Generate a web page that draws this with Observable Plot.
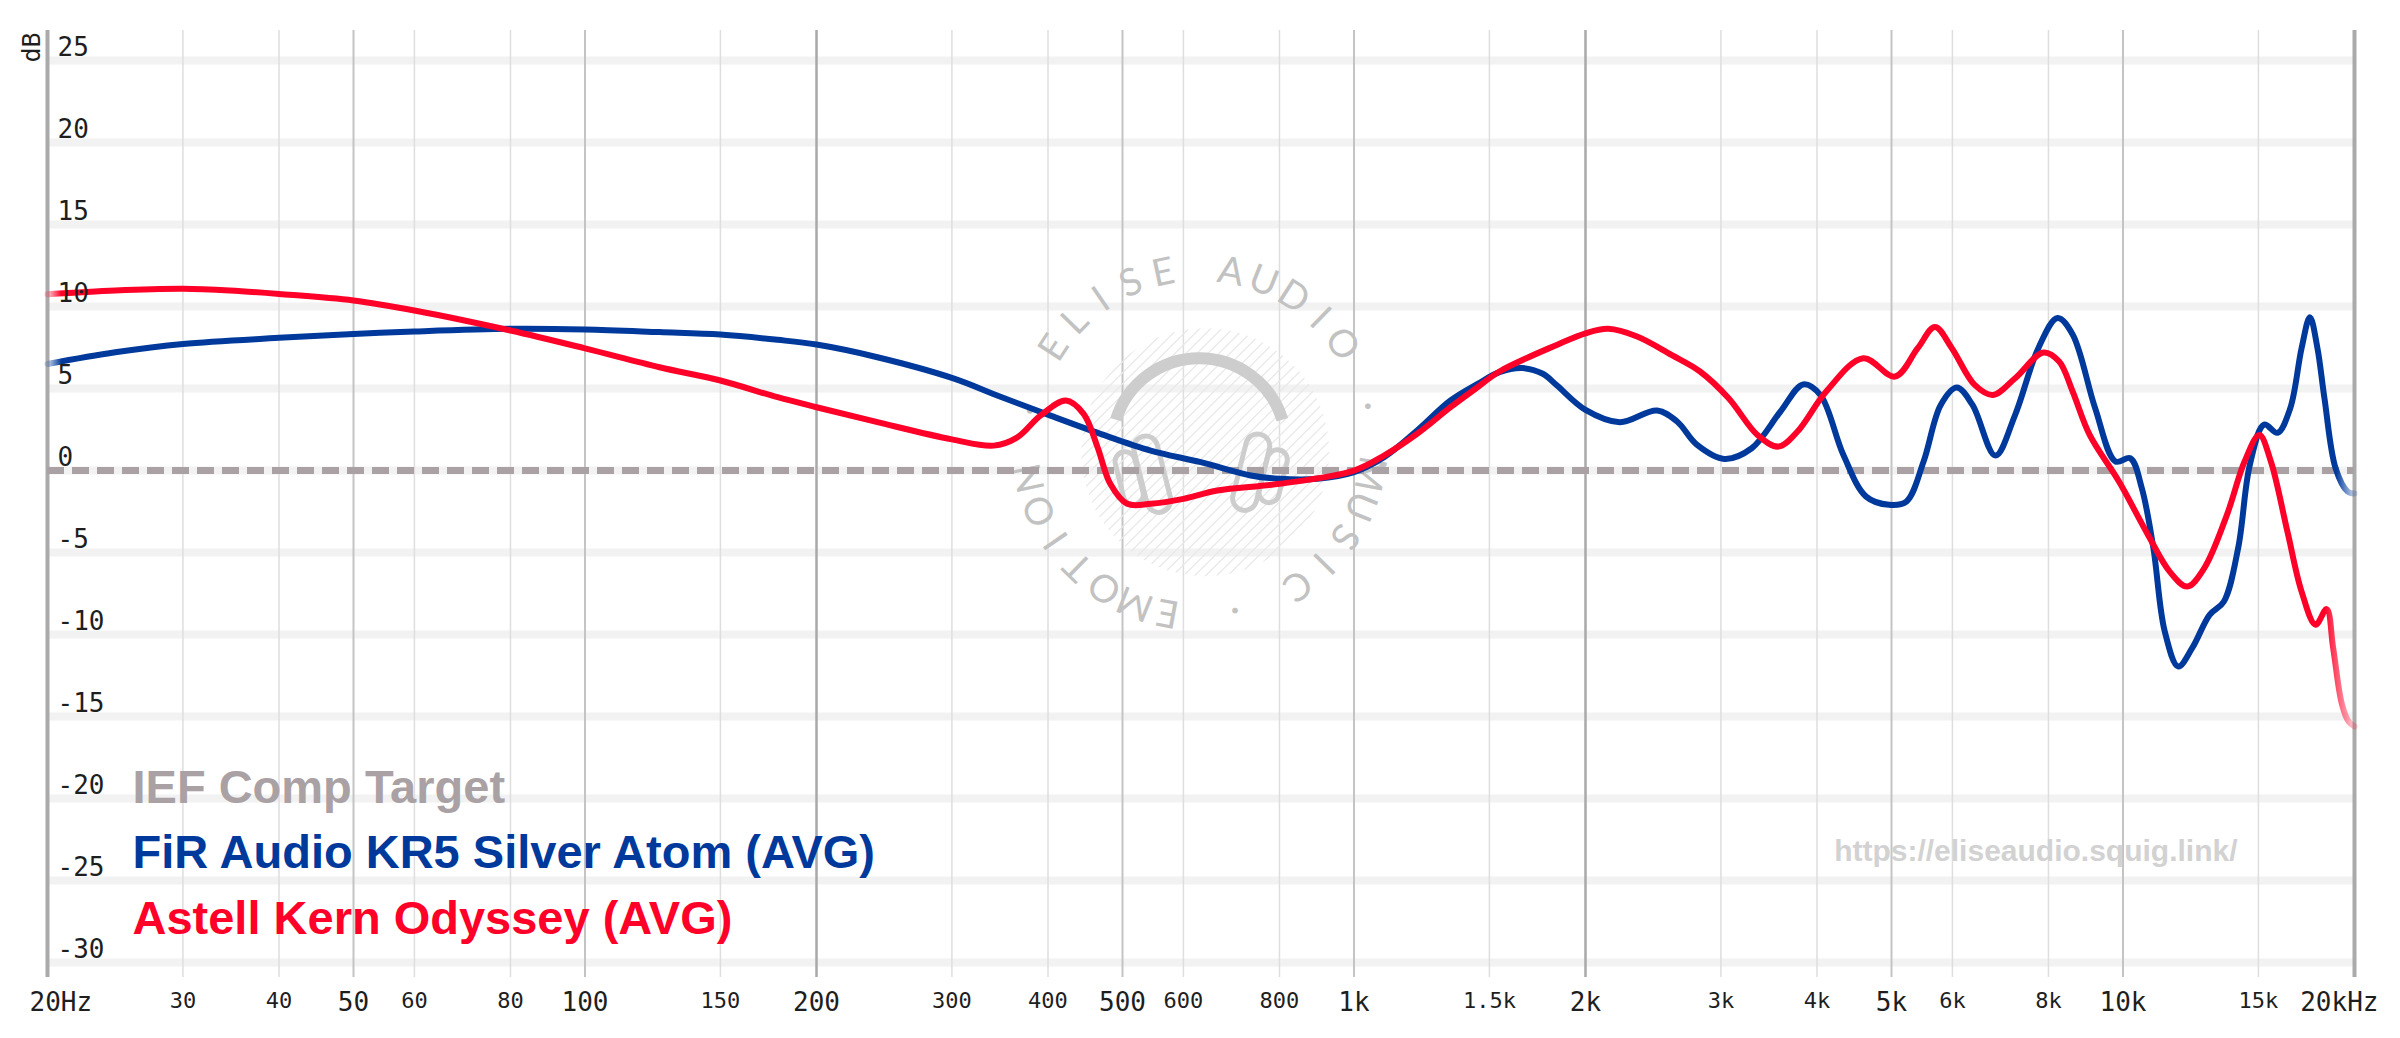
<!DOCTYPE html>
<html><head><meta charset="utf-8">
<script src="https://cdn.jsdelivr.net/npm/d3@7"></script>
<script src="https://cdn.jsdelivr.net/npm/@observablehq/plot@0.6"></script>
<style>
html,body{margin:0;padding:0;background:#fff;}
#chart svg{display:block;}
</style></head>
<body><div id="chart"></div>
<script>
// ---- data ----
const blueFreq = [20,24.5,30,40,50,60,80,100,125,150,178,200,240,300,347,403,468,544,632,734,800,896,1000,1094,1208,1335,1450,1546,1656,1760,1835,2000,2216,2478,2631,2794,3030,3290,3586,3838,4040,4328,4634,4964,5228,5504,5794,6080,6372,6824,7240,7760,8220,8600,9200,9780,10220,10580,10950,11330,11800,12310,12960,13520,14120,14620,15260,15880,16500,17070,17500,17900,18280,18900,19590,20000];
const blueDb   = [6.5,7.21,7.72,8.09,8.33,8.48,8.64,8.6,8.44,8.29,7.97,7.68,6.91,5.65,4.5,3.35,2.24,1.22,0.51,-0.3,-0.5,-0.5,-0.1,0.81,2.44,4.27,5.3,6.0,6.25,5.9,5.2,3.7,2.95,3.66,2.99,1.56,0.71,1.36,3.6,5.25,4.61,0.96,-1.59,-2.09,-1.89,0.55,4.0,5.06,4.0,0.91,3.4,7.46,9.3,8.3,3.8,0.55,0.75,-1.08,-4.7,-9.8,-11.95,-10.8,-8.8,-8.0,-4.7,0.35,2.8,2.3,3.8,7.46,9.35,7.46,4.4,0.14,-1.28,-1.4];
const redFreq  = [20,24.5,30,34.5,40,50,60,80,100,125,150,178,200,240,300,340,365,391,422,445,464,482,507,544,600,664,800,1000,1094,1208,1335,1440,1546,1835,2000,2141,2334,2587,2818,3070,3347,3564,3773,4112,4594,5052,5408,5694,5990,6414,6776,7240,7880,8260,8600,9050,9880,10770,11500,12120,12750,13650,14390,15040,15570,16360,17070,17800,18400,18760,19250,19650,20000];
const redDb    = [10.75,10.98,11.08,10.98,10.77,10.37,9.76,8.54,7.45,6.3,5.49,4.47,3.86,2.95,1.9,1.52,2.03,3.35,4.27,3.46,1.42,-0.81,-2.03,-2.03,-1.73,-1.22,-0.81,0,0.91,2.24,3.86,5.0,6.04,7.66,8.37,8.64,8.17,7.05,6.04,4.41,2.17,1.46,2.38,4.82,6.85,5.73,7.46,8.75,7.46,5.22,4.61,5.63,7.2,6.65,4.82,2.17,-0.67,-3.9,-6.16,-7.07,-5.96,-2.7,0.55,2.17,0.55,-3.72,-7.38,-9.4,-8.45,-10.8,-14.2,-15.3,-15.6];

const seriesNames  = ["IEF Comp Target", "FiR Audio KR5 Silver Atom (AVG)", "Astell Kern Odyssey (AVG)"];
const seriesColors = ["#aaa1a5", "#00399c", "#ff0028"];
const targetDb = 0;

const xTicks      = [20,30,40,50,60,80,100,150,200,300,400,500,600,800,1000,1500,2000,3000,4000,5000,6000,8000,10000,15000,20000];
const xTickLabels = ["20Hz","30","40","50","60","80","100","150","200","300","400","500","600","800","1k","1.5k","2k","3k","4k","5k","6k","8k","10k","15k","20kHz"];
const xMajor      = [20,50,100,200,500,1000,2000,5000,10000,20000];
const xDark       = [20,200,2000,20000];
const yTicks      = [25,20,15,10,5,0,-5,-10,-15,-20,-25,-30];
const yTickLabels = ["25","20","15","10","5","0","-5","-10","-15","-20","-25","-30"];

const urlText = "https://eliseaudio.squig.link/";
const wmText = "ELISE AUDIO · MUSIC · EMOTION · ";
const wmCenter = {freq: 630, db: 1.7};

// ---- tables ----
const blue = blueFreq.map((f, i) => ({f, db: blueDb[i]}));
const red  = redFreq.map((f, i) => ({f, db: redDb[i]}));
const ticks = xTicks.map((f, i) => ({f, label: xTickLabels[i], major: xMajor.includes(f)}));
const yt = yTicks.map((v, i) => ({v, label: yTickLabels[i]}));
const gridLight  = xTicks.filter(f => !xMajor.includes(f));
const gridMedium = xMajor.filter(f => !xDark.includes(f));
const gridDark   = xDark.filter(f => f !== 20 && f !== 20000);
const edges      = [20, 20000];

const monoFont = "'DejaVu Sans Mono', 'Liberation Mono', monospace";
const sansBold = "'Liberation Sans', Arial, sans-serif";

// defs: fading gradients for curve ends, soft blur for grid bands
const defsMark = () => {
  const defs = d3.create("svg:defs");
  [["fadeBlue", seriesColors[1], 0.006, 0.992], ["fadeRed", seriesColors[2], 0.006, 0.987]].forEach(([id, c, a, b]) => {
    const g = defs.append("linearGradient").attr("id", id).attr("x1", 0).attr("x2", 1).attr("y1", 0).attr("y2", 0);
    g.append("stop").attr("offset", 0).attr("stop-color", c).attr("stop-opacity", 0.2);
    g.append("stop").attr("offset", a).attr("stop-color", c).attr("stop-opacity", 1);
    g.append("stop").attr("offset", b).attr("stop-color", c).attr("stop-opacity", 1);
    g.append("stop").attr("offset", 1).attr("stop-color", c).attr("stop-opacity", 0.2);
  });
  defs.append("filter").attr("id", "soft").attr("x", "-5%").attr("y", "-5%").attr("width", "110%").attr("height", "110%")
    .append("feGaussianBlur").attr("stdDeviation", 1.6);
  return defs.node();
};

// watermark logo (decoration)
const watermarkMark = (index, scales) => {
  const cx = scales.x(wmCenter.freq), cy = scales.y(wmCenter.db);
  const g = d3.create("svg:g").attr("class", "wm");
  const wc = "#cdcdcd";
  g.append("clipPath").attr("id", "wmclip").append("circle").attr("cx", cx + 6).attr("cy", cy + 10).attr("r", 124);
  const hatch = g.append("g").attr("clip-path", "url(#wmclip)").attr("stroke", "#e8e8e8").attr("stroke-width", 1.3);
  for (let k = -300; k <= 300; k += 11) {
    hatch.append("line").attr("x1", cx + k - 200).attr("y1", cy + 200).attr("x2", cx + k + 200).attr("y2", cy - 200);
  }
  const R = 87, a1 = 197 * Math.PI / 180, a2 = 343 * Math.PI / 180, hy = cy + 3;
  g.append("path")
    .attr("d", `M${cx + R * Math.cos(a1)},${hy + R * Math.sin(a1)} A${R},${R} 0 0 1 ${cx + R * Math.cos(a2)},${hy + R * Math.sin(a2)}`)
    .attr("fill", "none").attr("stroke", wc).attr("stroke-width", 12);
  const cup = (x, y, w, h, rot) => g.append("rect")
    .attr("x", -w / 2).attr("y", -h / 2).attr("width", w).attr("height", h).attr("rx", w / 2)
    .attr("transform", `translate(${x},${y}) rotate(${rot})`)
    .attr("fill", "none").attr("stroke", wc).attr("stroke-width", 5);
  cup(cx - 47, cy + 32, 24, 78, -14);
  cup(cx - 70, cy + 36, 20, 54, -14);
  cup(cx + 52, cy + 30, 24, 78, 14);
  cup(cx + 74, cy + 34, 20, 54, 14);
  // circular lettering, one glyph per angular step
  const chars = [...wmText];
  const rb = 161, start = 213, step = 360 / chars.length;
  const tg = g.append("g").attr("fill", "#c2c2c2")
    .attr("font-family", "Lato, 'Open Sans', sans-serif").attr("font-size", 38).attr("text-anchor", "middle");
  chars.forEach((ch, i) => {
    if (ch === " ") return;
    const a = (start + i * step) * Math.PI / 180;
    const x = cx + rb * Math.cos(a), y = cy + rb * Math.sin(a);
    tg.append("text").attr("transform", `translate(${x},${y}) rotate(${start + i * step + 90})`).text(ch);
  });
  return g.node();
};

const chart = Plot.plot({
  width: 2400,
  height: 1038,
  marginLeft: 47,
  marginRight: 46,
  marginTop: 30,
  marginBottom: 61,
  style: {background: "#fff"},
  x: {type: "log", domain: [20, 20000], axis: null},
  y: {domain: [-30.91, 26.83], axis: null},
  marks: [
    defsMark,
    Plot.ruleY(yTicks, {stroke: "#f2f2f2", strokeWidth: 8, ariaLabel: "hgrid"}),
    Plot.ruleX(gridLight, {stroke: "#dedede", strokeWidth: 1.5}),
    Plot.ruleX(gridMedium, {stroke: "#c4c4c4", strokeWidth: 2}),
    Plot.ruleX(gridDark, {stroke: "#a9a9a9", strokeWidth: 2.5}),
    Plot.ruleX(edges, {stroke: "#aaaaaa", strokeWidth: 4}),
    watermarkMark,
    Plot.ruleY([targetDb], {stroke: seriesColors[0], strokeWidth: 7, strokeDasharray: "17,8"}),
    Plot.line(blue, {x: "f", y: "db", stroke: "url(#fadeBlue)", strokeWidth: 6, curve: "catmull-rom"}),
    Plot.line(red, {x: "f", y: "db", stroke: "url(#fadeRed)", strokeWidth: 6, curve: "catmull-rom"}),
    // y tick labels
    Plot.text(yt, {y: "v", text: "label", frameAnchor: "left", textAnchor: "start", lineAnchor: "bottom", dx: 10, dy: -5, fontSize: 26, fontFamily: monoFont, fill: "#1e1e1e"}),
    Plot.text(["dB"], {text: d => d, frameAnchor: "top-left", textAnchor: "end", lineAnchor: "bottom", rotate: -90, dx: -8, dy: 2, fontSize: 25, fontFamily: monoFont, fill: "#1e1e1e"}),
    // x tick labels
    Plot.text(ticks.filter(d => d.major && d.f !== 20 && d.f !== 20000), {x: "f", text: "label", frameAnchor: "bottom", lineAnchor: "bottom", dy: 33, fontSize: 26, fontFamily: monoFont, fill: "#1e1e1e"}),
    Plot.text(ticks.filter(d => !d.major), {x: "f", text: "label", frameAnchor: "bottom", lineAnchor: "bottom", dy: 30, fontSize: 22, fontFamily: monoFont, fill: "#1e1e1e"}),
    Plot.text(ticks.filter(d => d.f === 20), {x: "f", text: "label", frameAnchor: "bottom", textAnchor: "start", lineAnchor: "bottom", dx: -18, dy: 33, fontSize: 26, fontFamily: monoFont, fill: "#1e1e1e"}),
    Plot.text(ticks.filter(d => d.f === 20000), {x: "f", text: "label", frameAnchor: "bottom", textAnchor: "end", lineAnchor: "bottom", dx: 24, dy: 33, fontSize: 26, fontFamily: monoFont, fill: "#1e1e1e"}),
    // legend
    Plot.text([seriesNames[0]], {text: d => d, frameAnchor: "bottom-left", textAnchor: "start", lineAnchor: "bottom", dx: 85, dy: -175, fontSize: 47, fontWeight: "bold", fontFamily: sansBold, fill: seriesColors[0]}),
    Plot.text([seriesNames[1]], {text: d => d, frameAnchor: "bottom-left", textAnchor: "start", lineAnchor: "bottom", dx: 85, dy: -110, fontSize: 47, fontWeight: "bold", fontFamily: sansBold, fill: seriesColors[1]}),
    Plot.text([seriesNames[2]], {text: d => d, frameAnchor: "bottom-left", textAnchor: "start", lineAnchor: "bottom", dx: 85, dy: -44, fontSize: 47, fontWeight: "bold", fontFamily: sansBold, fill: seriesColors[2]}),
    Plot.text([urlText], {text: d => d, frameAnchor: "bottom-right", textAnchor: "end", lineAnchor: "bottom", dx: -117, dy: -117, fontSize: 30, fontWeight: "bold", fontFamily: sansBold, fill: "#d2d2d2"})
  ]
});

document.getElementById("chart").appendChild(chart);
// soft horizontal grid bands
chart.querySelectorAll('g[aria-label="hgrid"]').forEach(g => g.setAttribute("filter", "url(#soft)"));
</script>
</body></html>
